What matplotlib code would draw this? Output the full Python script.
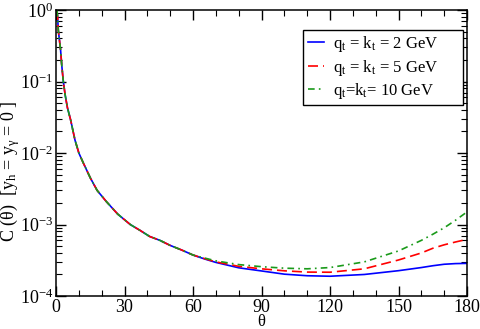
import numpy as np
import matplotlib
matplotlib.use("Agg")
import matplotlib.pyplot as plt
from matplotlib.ticker import MultipleLocator, LogLocator

plt.rcParams.update({
    "font.family": "Liberation Serif",
    "mathtext.fontset": "custom",
    "mathtext.rm": "Liberation Serif",
    "mathtext.it": "Liberation Serif:italic",
    "font.size": 12,
    "axes.linewidth": 1.1,
})

# common steep fall at small angles (all three curves coincide)
theta_low = [0.4, 0.7, 1.0, 1.5, 2.0, 2.5, 3.2, 4.0, 5.0, 6.4, 8.3, 10, 12, 15,
             18, 22, 27, 32.5, 37, 41, 45.5, 50, 55, 60]
c_low = [1.0, 0.8, 0.52, 0.38, 0.276, 0.17, 0.1, 0.065, 0.043, 0.029, 0.0152,
         0.0100, 0.0072, 0.0045, 0.0030, 0.0021, 0.0014, 0.0010, 0.00082,
         0.00068, 0.00060, 0.00051, 0.00044, 0.000374]

theta_high = [65, 70, 80, 90, 100, 110, 120, 135, 150, 160, 165, 170, 175, 180]
c_2gev = [3.3e-4, 2.95e-4, 2.48e-4, 2.24e-4, 2.02e-4, 1.92e-4, 1.89e-4, 2.0e-4,
          2.26e-4, 2.5e-4, 2.65e-4, 2.78e-4, 2.84e-4, 2.86e-4]
c_5gev = [3.34e-4, 3.0e-4, 2.6e-4, 2.4e-4, 2.25e-4, 2.16e-4, 2.15e-4, 2.4e-4,
          3.19e-4, 4.0e-4, 4.65e-4, 5.2e-4, 5.7e-4, 6.2e-4]
c_10gev = [3.4e-4, 3.1e-4, 2.75e-4, 2.57e-4, 2.45e-4, 2.4e-4, 2.5e-4, 3.0e-4,
           4.27e-4, 6.0e-4, 7.3e-4, 9.0e-4, 1.15e-3, 1.5e-3]

labels = [r"q$_\mathrm{t}$ = k$_\mathrm{t}$ = 2 GeV      ",
          r"q$_\mathrm{t}$ = k$_\mathrm{t}$ = 5 GeV      ",
          r"q$_\mathrm{t}$=k$_\mathrm{t}$= 10 GeV      "]

fig = plt.figure(figsize=(4.8, 3.29), dpi=100)
ax = fig.add_axes([0.1167, 0.1003, 0.8563, 0.8693])

th = theta_low + theta_high
ax.plot(th, c_low + c_2gev, color="#0000ff", lw=1.2, label=labels[0])
ax.plot(th, c_low + c_5gev, color="#ff0000", lw=1.2, dashes=(6, 3), label=labels[1])
ax.plot(th, c_low + c_10gev, color="#1a9a1a", lw=1.2, dashes=(4, 2.5, 1, 2.5),
        label=labels[2])

ax.set_yscale("log")
ax.set_xlim(0, 180)
ax.set_ylim(1e-4, 1)
ax.xaxis.set_major_locator(MultipleLocator(30))
ax.xaxis.set_minor_locator(MultipleLocator(10))
ax.yaxis.set_major_locator(LogLocator(base=10, numticks=10))
ax.yaxis.set_minor_locator(LogLocator(base=10, subs=np.arange(2, 10), numticks=20))
ax.tick_params(which="both", direction="in", top=True, right=True, labelsize=13)
ax.tick_params(which="major", length=7, width=1.0)
ax.tick_params(which="minor", length=4, width=0.8)
ax.tick_params(axis="x", pad=2)
ax.tick_params(axis="y", pad=2)

ax.set_xlabel("θ", fontsize=12, labelpad=-1)
ax.set_ylabel(r"C (θ)  [y$_\mathrm{h}$ = y$_\mathrm{γ}$ = 0 ]", fontsize=13)
ax.yaxis.set_label_coords(-0.082, 0.437)

leg = ax.legend(loc="upper right", bbox_to_anchor=(0.990, 0.930), fontsize=12,
                frameon=True, fancybox=False, edgecolor="black", framealpha=1,
                handlelength=1.0, handletextpad=0.5, labelspacing=0.2,
                borderpad=0.25, borderaxespad=0)
leg.get_frame().set_linewidth(1.0)

fig.savefig("out.png", dpi=100)
